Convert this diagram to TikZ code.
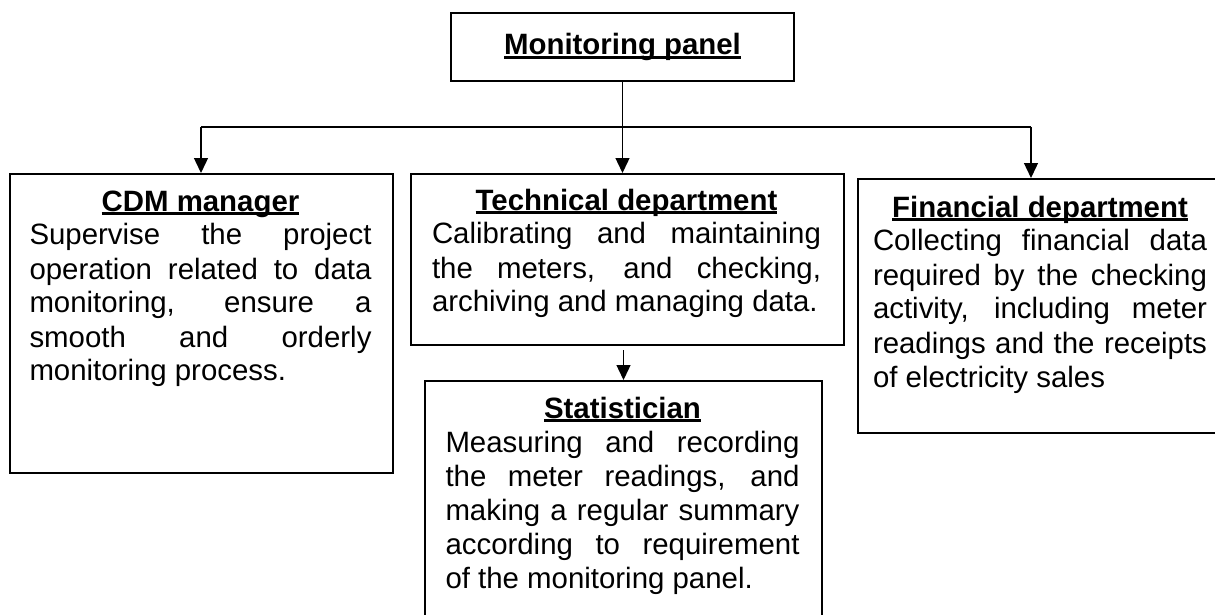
\documentclass[tikz,border=0pt]{standalone}
\usepackage{fontspec}
\setmainfont{Liberation Sans}
\usetikzlibrary{shapes,arrows.meta}

\newsavebox{\headbox}
\newcommand{\heading}[1]{\sbox\headbox{\bfseries #1}\rlap{\rule[-2pt]{\wd\headbox}{1.4pt}}\usebox\headbox}
\newcommand{\headline}[1]{\makebox[\linewidth]{\heading{#1}}\par}

\begin{document}
\begin{tikzpicture}[x=0.5pt,y=-0.5pt,line width=0.7pt,>={Triangle[length=7.5pt,width=7pt]},
  box/.style={draw,line width=1pt,rectangle,anchor=north west,inner sep=0pt},
  txt/.style={anchor=base,inner sep=0pt,align=justify,font=\fontsize{14.7}{17}\selectfont}]
\useasboundingbox (0,0) rectangle (1215,615);
% boxes
\node[box,minimum width=171.5pt,minimum height=34pt,font=\fontsize{14.7}{17}\selectfont](panel) at (450,12){\heading{Monitoring panel}};
\node[box,minimum width=191.5pt,minimum height=149.5pt](cdm) at (9,173){};
\node[box,minimum width=216.5pt,minimum height=85.5pt](tech) at (410,173){};
\node[box,minimum width=198.5pt,minimum height=120pt](stat) at (424,380){};
\node[box,minimum width=191.5pt,minimum height=127pt](fin) at (857,178){}; % runs past the right edge
% texts
\node[txt,text width=171pt](cdmtxt) at (200.5,211){\headline{CDM manager}Supervise the project\linebreak operation related to data\linebreak monitoring, ensure a\linebreak smooth and orderly\linebreak monitoring process.};
\node[txt,text width=194.5pt](techtxt) at (626.5,210){\headline{Technical department}Calibrating and maintaining\linebreak the meters, and checking,\linebreak archiving and managing data.};
\node[txt,text width=177pt](stattxt) at (622.5,418){\headline{Statistician}Measuring and recording\linebreak the meter readings, and\linebreak making a regular summary\linebreak according to requirement\linebreak of the monitoring panel.};
\node[txt,text width=167pt](fintxt) at (1040,217){\headline{Financial department}Collecting financial data\linebreak required by the checking\linebreak activity, including meter\linebreak readings and the receipts\linebreak of electricity sales};
% connectors
\coordinate (busl) at (201,127);
\coordinate (busr) at (1031,127);
\draw[->](panel.south)--(panel.south |- tech.north);
\draw(busl)--(busr);
\draw[->](busl)--(busl |- cdm.north);
\draw[->](busr)--(busr |- fin.north);
\draw[->,shorten <=2pt](stat.north |- tech.south)--(stat.north);
\end{tikzpicture}
\end{document}
